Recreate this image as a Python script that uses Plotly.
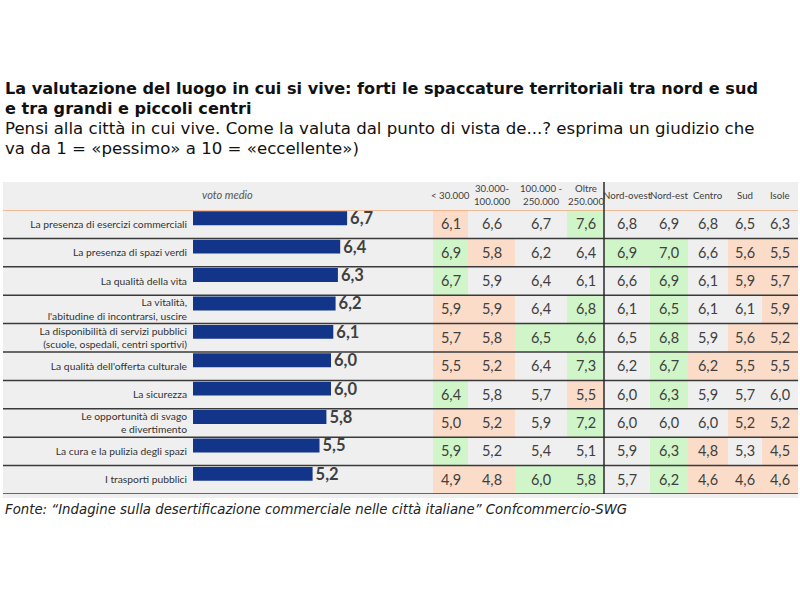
import plotly.graph_objects as go

# ---------------- data ----------------
items = [
    "La presenza di esercizi commerciali",
    "La presenza di spazi verdi",
    "La qualità della vita",
    "La vitalità,<br>l'abitudine di incontrarsi, uscire",
    "La disponibilità di servizi pubblici<br>(scuole, ospedali, centri sportivi)",
    "La qualità dell'offerta culturale",
    "La sicurezza",
    "Le opportunità di svago<br>e divertimento",
    "La cura e la pulizia degli spazi",
    "I trasporti pubblici",
]
voto_medio = [6.7, 6.4, 6.3, 6.2, 6.1, 6.0, 6.0, 5.8, 5.5, 5.2]

col_headers = ["< 30.000", "30.000-<br>100.000", "100.000 -<br>250.000", "Oltre<br>250.000",
               "Nord-ovest", "Nord-est", "Centro", "Sud", "Isole"]

# rows = items, columns = col_headers
table_values = [
    [6.1, 6.6, 6.7, 7.6, 6.8, 6.9, 6.8, 6.5, 6.3],
    [6.9, 5.8, 6.2, 6.4, 6.9, 7.0, 6.6, 5.6, 5.5],
    [6.7, 5.9, 6.4, 6.1, 6.6, 6.9, 6.1, 5.9, 5.7],
    [5.9, 5.9, 6.4, 6.8, 6.1, 6.5, 6.1, 6.1, 5.9],
    [5.7, 5.8, 6.5, 6.6, 6.5, 6.8, 5.9, 5.6, 5.2],
    [5.5, 5.2, 6.4, 7.3, 6.2, 6.7, 6.2, 5.5, 5.5],
    [6.4, 5.8, 5.7, 5.5, 6.0, 6.3, 5.9, 5.7, 6.0],
    [5.0, 5.2, 5.9, 7.2, 6.0, 6.0, 6.0, 5.2, 5.2],
    [5.9, 5.2, 5.4, 5.1, 5.9, 6.3, 4.8, 5.3, 4.5],
    [4.9, 4.8, 6.0, 5.8, 5.7, 6.2, 4.6, 4.6, 4.6],
]
# +1 = sopra la media (verde), -1 = sotto la media (rosa), 0 = neutro
table_flags = [
    [-1, 0, 0, 1, 0, 0, 0, 0, 0],
    [1, -1, 0, 0, 1, 1, 0, -1, -1],
    [1, 0, 0, 0, 0, 1, 0, -1, -1],
    [-1, -1, 0, 1, 0, 1, 0, 0, -1],
    [-1, -1, 1, 1, 0, 1, 0, -1, -1],
    [-1, -1, 0, 1, 0, 1, -1, -1, -1],
    [1, 0, 0, -1, 0, 1, 0, 0, 0],
    [-1, -1, 0, 1, 0, 0, 0, -1, -1],
    [1, 0, 0, 0, 0, 1, -1, 0, -1],
    [-1, -1, 1, 1, 0, 1, -1, -1, -1],
]

# ---------------- layout constants ----------------
W, H = 800, 600
COL_WIDTHS = [35, 47, 52, 37, 46, 38, 40, 34, 36]
PANEL_BG = "#efefef"
NAVY = "#12358a"
PEACH = "#fbdcc9"
GREEN = "#cff5c9"
TXT = "#404040"
FONT_TAB = "Lato, Open Sans, sans-serif"
TITLE_FONT = "DejaVu Sans, Verdana, sans-serif"

def px_x(v):
    return v / W

def px_y(v):
    return 1 - v / H

n = len(items)
rows = list(range(n))
edges = [0]
for w in COL_WIDTHS:
    edges.append(edges[-1] + w)
centers = [(edges[i] + edges[i + 1]) / 2 for i in range(len(COL_WIDTHS))]

cell_text = [[f"{v:.1f}".replace(".", ",") for v in r] for r in table_values]

fig = go.Figure()

fig.add_trace(go.Heatmap(
    z=table_flags, x=edges, y=rows, xaxis="x2", yaxis="y",
    colorscale=[[0, PEACH], [0.5, PANEL_BG], [1, GREEN]], zmin=-1, zmax=1,
    showscale=False, text=cell_text, texttemplate="%{text}",
    textfont=dict(family=FONT_TAB, size=14.5, color=TXT), hoverinfo="skip",
))

fig.add_trace(go.Bar(
    x=voto_medio, y=rows, orientation="h", xaxis="x", yaxis="y",
    width=0.49, offset=-0.455, marker=dict(color=NAVY, line=dict(width=0)),
    text=voto_medio, texttemplate="%{x:.1f}", textposition="outside",
    textfont=dict(family=FONT_TAB, size=16.5, color=TXT, weight="bold"), constraintext="none",
    cliponaxis=False, hoverinfo="skip",
))

shapes = []
# panel background
shapes.append(dict(type="rect", xref="paper", yref="paper", x0=px_x(3), x1=px_x(798),
                   y0=px_y(498), y1=px_y(182), fillcolor=PANEL_BG, line=dict(width=0), layer="below"))
# header separator
shapes.append(dict(type="line", xref="paper", yref="y", x0=px_x(3), x1=px_x(798), y0=-0.5, y1=-0.5,
                   line=dict(color="#f0a878", width=1.5)))
for i in rows:
    shapes.append(dict(type="line", xref="paper", yref="y", x0=px_x(3), x1=px_x(798),
                       y0=i + 0.5, y1=i + 0.5, line=dict(color="#3a3a3a", width=1.5)))
# vertical divider
shapes.append(dict(type="line", xref="x2", yref="paper", x0=edges[4], x1=edges[4],
                   y0=px_y(494), y1=px_y(182), line=dict(color="#2a2a2a", width=1.5)))

annotations = []
for c, h in zip(centers, col_headers):
    annotations.append(dict(xref="x2", yref="paper", x=c, y=px_y(195), text=h, showarrow=False,
                            xanchor="center", yanchor="middle", align="center",
                            font=dict(family=FONT_TAB, size=9.7, color=TXT)))
annotations.append(dict(xref="paper", yref="paper", x=px_x(228), y=px_y(195), text="<i>voto medio</i>",
                        showarrow=False, xanchor="center", yanchor="middle",
                        font=dict(family=FONT_TAB, size=11, color="#555555")))

title_lines = [
    ("<b>La valutazione del luogo in cui si vive: forti le spaccature territoriali tra nord e sud</b>", 88),
    ("<b>e tra grandi e piccoli centri</b>", 109),
]
sub_lines = [
    ("Pensi alla città in cui vive. Come la valuta dal punto di vista de...? esprima un giudizio che", 129),
    ("va da 1 = «pessimo» a 10 = «eccellente»)", 149),
]
for t, yy in title_lines:
    annotations.append(dict(xref="paper", yref="paper", x=px_x(3), y=px_y(yy), text=t, showarrow=False,
                            xanchor="left", yanchor="middle",
                            font=dict(family=TITLE_FONT, size=16.1, color="#111111")))
for t, yy in sub_lines:
    annotations.append(dict(xref="paper", yref="paper", x=px_x(3), y=px_y(yy), text=t, showarrow=False,
                            xanchor="left", yanchor="middle",
                            font=dict(family=TITLE_FONT, size=16.6, color="#111111")))
annotations.append(dict(xref="paper", yref="paper", x=px_x(3), y=px_y(509),
                        text="<i>Fonte: “Indagine sulla desertificazione commerciale nelle città italiane” Confcommercio-SWG</i>",
                        showarrow=False, xanchor="left", yanchor="middle",
                        font=dict(family=TITLE_FONT, size=13.3, color="#222222")))

fig.update_layout(
    width=W, height=H, margin=dict(l=0, r=0, t=0, b=0),
    paper_bgcolor="white", plot_bgcolor="rgba(0,0,0,0)", showlegend=False,
    separators=",.",
    xaxis=dict(domain=[px_x(193), px_x(433)], range=[0, 240 / 23], visible=False, fixedrange=True),
    xaxis2=dict(domain=[px_x(433), px_x(433 + edges[-1])], range=[0, edges[-1]], visible=False,
                anchor="y", fixedrange=True),
    yaxis=dict(domain=[px_y(494), px_y(210)], range=[n - 0.5, -0.5], tickvals=rows, ticktext=items,
               showgrid=False, zeroline=False, ticks="", showline=False, ticklabelstandoff=5,
               tickfont=dict(family=FONT_TAB, size=10.3, color="#333333"), fixedrange=True),
    shapes=shapes, annotations=annotations,
)

fig.write_html("out.html", config={"displayModeBar": False},
               post_script="document.body.style.margin='0px';")
